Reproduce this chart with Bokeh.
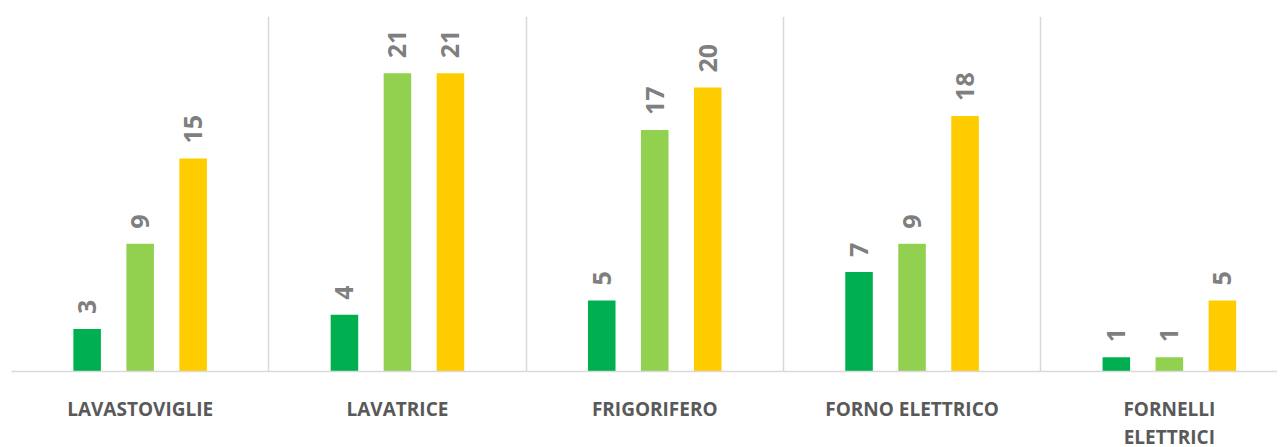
import math
from bokeh.plotting import figure
from bokeh.models import ColumnDataSource, Range1d, FixedTicker
from bokeh.core.properties import value
from bokeh.embed import file_html
from bokeh.resources import INLINE

categories = ["LAVASTOVIGLIE", "LAVATRICE", "FRIGORIFERO", "FORNO ELETTRICO", "FORNELLI\nELETTRICI"]
series_a = [3, 4, 5, 7, 1]      # dark green
series_b = [9, 21, 17, 9, 1]    # light green
series_c = [15, 21, 20, 18, 5]  # yellow
colors = ["#00B050", "#92D050", "#FFCC00"]

cat_px = 257.3
frame_w = 1266
p = figure(output_backend="svg", toolbar_location=None,
           frame_width=frame_w, frame_height=355,
           x_range=Range1d(0, frame_w / cat_px), y_range=Range1d(0, 25))
p.min_border_left = 11
p.min_border_right = 0
p.min_border_top = 16
p.min_border_bottom = 60
p.outline_line_color = None
p.background_fill_color = "white"
p.border_fill_color = "white"

offsets = [-0.206, 0.0, 0.206]
bar_w = 0.107
for vals, col, off in zip([series_a, series_b, series_c], colors, offsets):
    xs = [i + 0.5 + off for i in range(len(categories))]
    src = ColumnDataSource(dict(x=xs, top=vals, lbl=[str(v) for v in vals]))
    p.vbar(x="x", top="top", bottom=0, width=bar_w, source=src,
           fill_color=col, line_color=None)
    p.text(x="x", y="top", text="lbl", source=src, angle=math.pi / 2,
           text_align="left", text_baseline="middle", y_offset=-15,
           text_font=value("Open Sans"), text_font_style="bold",
           text_font_size="25px", text_color="#7F7F7F")

# axes
p.yaxis.visible = False
p.ygrid.grid_line_color = None
p.xaxis.ticker = FixedTicker(ticks=[i + 0.5 for i in range(len(categories))])
p.xaxis.major_label_overrides = {i + 0.5: c for i, c in enumerate(categories)}
p.xaxis.major_tick_line_color = None
p.xaxis.minor_tick_line_color = None
p.xaxis.axis_line_color = "#D9D9D9"
p.xaxis.axis_line_width = 1.5
p.xaxis.major_label_text_font = "Open Sans"
p.xaxis.major_label_text_font_style = "bold"
p.xaxis.major_label_text_font_size = "19px"
p.xaxis.major_label_text_color = "#595959"
p.xaxis.major_label_text_line_height = 1.1
p.xaxis.major_label_standoff = 18
p.xgrid.ticker = FixedTicker(ticks=list(range(len(categories) + 1)))
p.xgrid.grid_line_color = "#D9D9D9"
p.xgrid.grid_line_width = 1.5

open("out.html", "w").write(file_html(p, INLINE))
